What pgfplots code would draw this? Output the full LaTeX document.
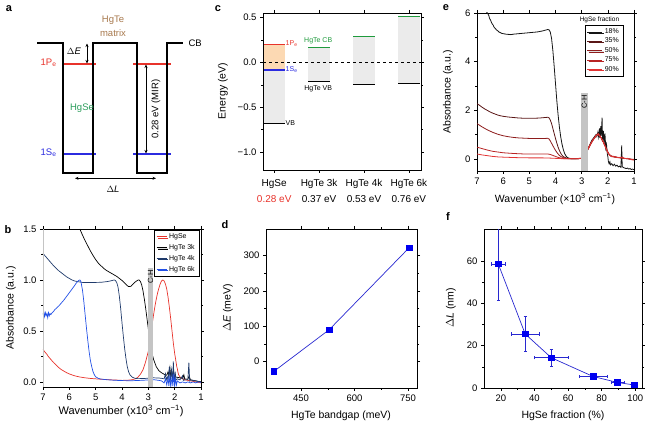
\documentclass[border=0pt]{standalone}
\usepackage{pgfplots}
\pgfplotsset{compat=1.18}
\usepackage{pgfplotstable}
\usepackage{fontspec}
\setmainfont{Liberation Sans}
\usetikzlibrary{shadows,arrows.meta}

\definecolor{cRed}{HTML}{E8332B}
\definecolor{cBlue}{HTML}{2B2BE0}
\definecolor{cGreen}{HTML}{1E9A3C}
\definecolor{cHgSe}{HTML}{2E9E5E}
\definecolor{cBrown}{HTML}{A87A4F}
\definecolor{cOrange}{HTML}{FCD9B3}
\definecolor{cGrayBar}{HTML}{EBEBEB}
\definecolor{cBand}{HTML}{C4C4C4}
\definecolor{cNavy}{HTML}{1F3A6B}
\definecolor{c6k}{HTML}{2250E6}
\definecolor{cMark}{HTML}{0000F0}
\definecolor{cLine}{HTML}{2828D0}
\definecolor{r18}{HTML}{151515}
\definecolor{r35}{HTML}{5A1616}
\definecolor{r50}{HTML}{8E1C1C}
\definecolor{r75}{HTML}{B82424}
\definecolor{r90}{HTML}{E23434}

\newcommand\labfont{\fontsize{10.5}{12}\selectfont}

\pgfplotsset{
  panel/.style={
    scale only axis,
    anchor=south west,
    axis line style={line width=0.5pt},
    tick align=outside,
    tick style={black, line width=0.5pt},
    major tick length=3pt, minor tick length=1.8pt,
    tick label style={font=\fontsize{9.5}{11}\selectfont},
    /pgf/number format/assume math mode=true,
  },
  shadowlegend/.style={
    legend cell align=left,
    legend style={draw=black, line width=0.4pt, fill=white,
      inner xsep=2pt, inner ysep=1.5pt,
      font=\fontsize{6.5}{7}\selectfont, row sep=-0.5pt,
      drop shadow={shadow xshift=1.3pt, shadow yshift=-1.3pt, fill=black, opacity=1}},
    legend image code/.code={\draw[##1] (0pt,0pt) -- (#1,0pt);},
  },
}

% ---------- absorbance spectra, QDs ----------
\pgfplotstableread{
x y
7.00 0.32
6.95 0.30
6.90 0.285
6.85 0.27
6.80 0.25
6.75 0.235
6.70 0.22
6.60 0.19
6.50 0.165
6.40 0.14
6.30 0.12
6.20 0.105
6.10 0.09
6.00 0.078
5.80 0.06
5.60 0.048
5.40 0.04
5.20 0.034
5.00 0.03
4.80 0.026
4.60 0.023
4.40 0.02
4.20 0.018
4.00 0.015
3.80 0.016
3.60 0.022
3.50 0.03
3.40 0.045
3.30 0.075
3.20 0.12
3.10 0.2
3.00 0.3
2.90 0.48
2.80 0.66
2.75 0.74
2.70 0.81
2.65 0.87
2.60 0.92
2.55 0.96
2.50 0.99
2.45 1.00
2.40 0.99
2.35 0.96
2.30 0.91
2.25 0.83
2.20 0.73
2.15 0.62
2.10 0.50
2.05 0.38
2.00 0.28
1.95 0.20
1.92 0.15
1.90 0.13
1.87 0.09
1.85 0.07
1.80 0.05
1.75 0.04
1.70 0.03
1.60 0.02
1.50 0.015
1.40 0.01
1.30 0.005
1.20 0.0
1.10 -0.005
1.00 -0.01
}\tblBHgSe

\pgfplotstableread{
x y
5.60 1.50
5.50 1.44
5.40 1.385
5.30 1.335
5.20 1.285
5.10 1.24
5.00 1.20
4.90 1.165
4.80 1.14
4.70 1.115
4.60 1.095
4.50 1.08
4.40 1.065
4.30 1.05
4.20 1.035
4.10 1.015
4.00 0.995
3.90 0.97
3.80 0.945
3.75 0.935
3.70 0.935
3.65 0.94
3.60 0.955
3.50 0.98
3.40 0.998
3.35 1.0
3.30 0.985
3.25 0.95
3.20 0.89
3.15 0.81
3.10 0.72
3.05 0.62
3.00 0.52
2.95 0.42
2.90 0.34
2.85 0.27
2.80 0.22
2.70 0.15
2.60 0.11
2.50 0.09
2.40 0.075
2.35 0.07
2.30 0.065
2.25 0.10
2.22 0.06
2.18 0.14
2.15 0.06
2.10 0.055
2.05 0.11
2.02 0.05
2.00 0.05
1.90 0.045
1.80 0.04
1.70 0.035
1.65 0.07
1.62 0.03
1.50 0.025
1.45 0.06
1.40 0.02
1.30 0.015
1.20 0.01
1.10 0.005
1.00 0.0
}\tblBthree

\pgfplotstableread{
x y
7.00 1.26
6.95 1.245
6.90 1.23
6.85 1.215
6.80 1.20
6.75 1.185
6.70 1.17
6.65 1.155
6.60 1.14
6.50 1.115
6.40 1.09
6.30 1.07
6.20 1.05
6.10 1.03
6.00 1.015
5.90 1.0
5.80 0.99
5.70 0.985
5.60 0.98
5.50 0.976
5.40 0.975
5.20 0.975
5.00 0.976
4.80 0.977
4.70 0.98
4.60 0.983
4.50 0.987
4.40 0.993
4.30 1.0
4.25 0.995
4.20 0.975
4.15 0.93
4.10 0.84
4.05 0.72
4.00 0.58
3.95 0.45
3.90 0.33
3.85 0.23
3.80 0.15
3.75 0.10
3.70 0.07
3.60 0.045
3.50 0.035
3.40 0.032
3.20 0.033
3.00 0.036
2.80 0.04
2.60 0.038
2.50 0.035
2.40 0.03
2.35 0.08
2.32 0.02
2.28 0.05
2.25 0.02
2.20 0.15
2.17 0.0
2.12 0.12
2.08 0.01
2.05 0.20
2.02 0.0
1.98 0.10
1.95 0.02
1.90 0.03
1.80 0.02
1.70 0.06
1.67 0.015
1.60 0.02
1.50 0.02
1.46 0.19
1.43 0.01
1.40 0.02
1.30 0.015
1.20 0.01
1.10 0.005
1.00 0.0
}\tblBfour

\pgfplotstableread{
x y
7.00 0.66
6.97 0.69
6.94 0.64
6.91 0.68
6.88 0.65
6.85 0.67
6.82 0.63
6.79 0.68
6.76 0.65
6.73 0.67
6.70 0.66
6.65 0.68
6.60 0.69
6.55 0.71
6.50 0.72
6.40 0.745
6.30 0.775
6.20 0.805
6.10 0.84
6.00 0.875
5.90 0.91
5.80 0.945
5.75 0.965
5.70 0.98
5.65 0.995
5.60 1.0
5.57 0.99
5.55 0.97
5.50 0.90
5.45 0.79
5.40 0.66
5.35 0.53
5.30 0.41
5.25 0.30
5.20 0.21
5.15 0.15
5.10 0.10
5.05 0.07
5.00 0.05
4.90 0.035
4.80 0.028
4.60 0.022
4.40 0.018
4.20 0.015
4.00 0.013
3.80 0.012
3.60 0.012
3.40 0.014
3.20 0.016
3.00 0.02
2.80 0.022
2.60 0.015
2.50 0.01
2.40 -0.01
2.35 0.03
2.30 -0.03
2.25 0.04
2.22 -0.04
2.18 0.06
2.15 -0.05
2.10 0.05
2.07 -0.04
2.03 0.08
2.00 -0.05
1.97 0.03
1.93 -0.03
1.90 0.01
1.80 -0.01
1.70 0.0
1.60 -0.01
1.50 0.0
1.40 -0.01
1.30 0.0
1.20 -0.01
1.10 0.0
1.00 -0.005
}\tblBsix

% ---------- absorbance spectra, HgSe/HgTe films ----------
\pgfplotstableread{
x y
7.00 6.80
6.90 6.55
6.80 6.35
6.70 6.15
6.62 6.02
6.58 5.96
6.55 5.90
6.52 5.78
6.48 5.70
6.45 5.62
6.42 5.55
6.38 5.50
6.35 5.42
6.30 5.36
6.25 5.30
6.20 5.26
6.15 5.21
6.10 5.19
6.05 5.16
6.00 5.15
5.90 5.13
5.80 5.12
5.70 5.11
5.60 5.13
5.50 5.14
5.40 5.15
5.30 5.16
5.20 5.17
5.10 5.18
5.00 5.19
4.90 5.20
4.80 5.21
4.70 5.22
4.60 5.24
4.50 5.26
4.40 5.29
4.30 5.32
4.25 5.31
4.20 5.22
4.15 4.95
4.10 4.45
4.05 3.80
4.00 3.10
3.95 2.40
3.90 1.80
3.85 1.30
3.80 0.90
3.75 0.60
3.70 0.38
3.65 0.22
3.60 0.12
3.55 0.06
3.50 0.03
3.40 0.01
3.30 0.0
3.20 0.0
3.10 0.01
3.00 0.02
2.90 0.10
2.80 0.30
2.75 0.42
2.70 0.55
2.65 0.68
2.60 0.78
2.55 0.85
2.50 0.93
2.45 1.00
2.42 0.92
2.38 1.10
2.35 0.90
2.32 1.25
2.30 0.85
2.27 1.35
2.25 0.95
2.22 1.70
2.20 0.70
2.17 1.15
2.14 0.60
2.11 1.05
2.08 0.45
2.05 0.60
2.02 0.20
2.00 0.10
1.98 -0.10
1.95 -0.20
1.92 -0.12
1.90 -0.25
1.85 -0.20
1.80 -0.28
1.75 -0.22
1.70 -0.30
1.65 -0.26
1.60 -0.33
1.55 -0.30
1.50 -0.35
1.47 0.55
1.45 -0.32
1.40 -0.36
1.35 -0.38
1.30 -0.40
1.25 -0.38
1.20 -0.42
1.15 -0.40
1.10 -0.44
1.05 -0.42
1.00 -0.45
}\tblEa

\pgfplotstableread{
x y
7.00 2.27
6.90 2.20
6.80 2.12
6.70 2.05
6.60 1.99
6.50 1.93
6.40 1.88
6.30 1.84
6.20 1.80
6.10 1.77
6.00 1.75
5.80 1.72
5.60 1.70
5.40 1.68
5.20 1.67
5.00 1.67
4.80 1.67
4.60 1.68
4.50 1.69
4.40 1.70
4.30 1.71
4.25 1.69
4.20 1.60
4.15 1.45
4.10 1.25
4.05 1.04
4.00 0.84
3.95 0.65
3.90 0.48
3.85 0.34
3.80 0.23
3.75 0.15
3.70 0.09
3.60 0.04
3.50 0.015
3.40 0.005
3.20 0.0
3.00 0.02
2.90 0.15
2.80 0.33
2.75 0.42
2.70 0.52
2.65 0.62
2.60 0.72
2.55 0.80
2.50 0.88
2.45 0.95
2.40 0.99
2.36 1.03
2.32 0.95
2.28 0.92
2.24 0.84
2.20 0.76
2.16 0.68
2.12 0.58
2.08 0.48
2.04 0.38
2.00 0.28
1.96 0.20
1.92 0.15
1.88 0.12
1.84 0.10
1.80 0.09
1.75 0.08
1.70 0.07
1.65 0.06
1.60 0.05
1.50 0.04
1.46 0.09
1.44 0.03
1.40 0.02
1.30 0.01
1.20 0.0
1.10 -0.02
1.00 -0.03
}\tblEb

\pgfplotstableread{
x y
7.00 1.45
6.90 1.38
6.80 1.31
6.70 1.25
6.60 1.19
6.50 1.14
6.40 1.09
6.30 1.05
6.20 1.01
6.10 0.98
6.00 0.95
5.80 0.91
5.60 0.88
5.40 0.86
5.20 0.85
5.00 0.84
4.80 0.835
4.60 0.835
4.40 0.84
4.30 0.845
4.25 0.82
4.20 0.74
4.15 0.64
4.10 0.54
4.05 0.44
4.00 0.35
3.95 0.27
3.90 0.20
3.85 0.14
3.80 0.10
3.75 0.07
3.70 0.05
3.60 0.02
3.50 0.005
3.30 0.0
3.00 0.03
2.90 0.17
2.80 0.36
2.75 0.44
2.70 0.55
2.65 0.63
2.60 0.74
2.55 0.81
2.50 0.90
2.45 0.96
2.41 1.01
2.37 0.98
2.33 1.00
2.29 0.90
2.25 0.86
2.21 0.74
2.17 0.70
2.13 0.57
2.09 0.50
2.05 0.37
2.01 0.30
1.97 0.21
1.93 0.17
1.89 0.13
1.85 0.11
1.80 0.10
1.75 0.08
1.70 0.08
1.62 0.06
1.55 0.05
1.48 0.07
1.42 0.03
1.35 0.02
1.25 0.01
1.15 -0.01
1.00 -0.02
}\tblEc

\pgfplotstableread{
x y
7.00 0.48
6.80 0.42
6.60 0.36
6.40 0.31
6.20 0.28
6.00 0.25
5.80 0.235
5.60 0.22
5.40 0.21
5.20 0.20
5.00 0.20
4.80 0.20
4.60 0.20
4.40 0.20
4.30 0.20
4.20 0.18
4.10 0.14
4.00 0.10
3.90 0.06
3.80 0.03
3.70 0.01
3.50 0.0
3.20 0.0
3.00 0.02
2.90 0.14
2.80 0.31
2.75 0.40
2.70 0.50
2.65 0.61
2.60 0.70
2.55 0.79
2.50 0.86
2.45 0.94
2.42 0.97
2.38 1.01
2.34 0.99
2.30 0.93
2.26 0.88
2.22 0.78
2.18 0.72
2.14 0.61
2.10 0.53
2.06 0.41
2.02 0.32
1.98 0.23
1.94 0.17
1.90 0.12
1.85 0.09
1.80 0.08
1.75 0.09
1.70 0.07
1.65 0.05
1.58 0.06
1.50 0.03
1.45 0.06
1.40 0.02
1.30 0.01
1.20 0.0
1.10 -0.03
1.00 -0.04
}\tblEd

\pgfplotstableread{
x y
7.00 0.20
6.80 0.16
6.60 0.13
6.40 0.10
6.20 0.08
6.00 0.07
5.50 0.05
5.00 0.04
4.50 0.04
4.20 0.03
4.00 0.02
3.80 0.01
3.50 0.0
3.20 0.0
3.00 0.03
2.90 0.16
2.80 0.34
2.75 0.43
2.70 0.53
2.65 0.64
2.60 0.71
2.55 0.82
2.50 0.87
2.45 0.97
2.41 0.98
2.37 1.04
2.33 0.96
2.29 0.94
2.25 0.84
2.21 0.79
2.17 0.67
2.13 0.60
2.09 0.47
2.05 0.40
2.01 0.27
1.97 0.22
1.93 0.14
1.89 0.13
1.85 0.09
1.80 0.11
1.75 0.07
1.70 0.08
1.62 0.05
1.55 0.06
1.48 0.04
1.42 0.05
1.35 0.01
1.25 0.02
1.15 -0.02
1.00 -0.05
}\tblEe

\begin{document}
\begin{tikzpicture}[x=1pt,y=1pt]
\useasboundingbox (0,0) rectangle (646,423);

% ================= panel a: band alignment sketch =================
\begin{scope}[line width=1.1pt]
  \draw[cRed] (63,359) -- (96,359);
  \draw[cRed] (133,359) -- (171,359);
  \draw[cBlue] (63,269) -- (96,269);
  \draw[cBlue] (133,269) -- (171,269);
  \draw[black, line join=miter] (37,380) -- (63,380) -- (63,250) -- (93,250) -- (93,380)
     -- (137,380) -- (137,250) -- (167,250) -- (167,380) -- (183,380);
\end{scope}
\begin{scope}[line width=0.6pt, {Stealth[length=3.5pt,width=3pt]}-{Stealth[length=3.5pt,width=3pt]}]
  \draw (87,379.5) -- (87,359.5);
  \draw (146,358.5) -- (146,269.5);
  \draw (75,244.7) -- (156,244.7);
\end{scope}
\begin{scope}[font=\fontsize{9.5}{11}\selectfont]
  \node[font=\fontsize{11}{12}\selectfont\bfseries] at (9,414) {a};
  \node[cBrown] at (113,403) {HgTe};
  \node[cBrown] at (113,390) {matrix};
  \node[anchor=west] at (185,380) {CB};
  \node at (74,372) {$\Delta$\textit{E}};
  \node[cRed, anchor=east] at (60,360) {1P\textsubscript{e}};
  \node[cBlue, anchor=east] at (60,270) {1S\textsubscript{e}};
  \node[cHgSe] at (82,315) {HgSe};
  \node[rotate=90] at (156,314) {0.28 eV (MIR)};
  \node at (113,234) {$\Delta$\textit{L}};
\end{scope}

% ================= panel b: QD spectra =================
\begin{axis}[panel, shadowlegend=10pt, at={(43pt,36pt)}, width=158pt, height=158pt,
  x dir=reverse, xmin=1, xmax=7, ymin=-0.05, ymax=1.5,
  xtick={1,2,...,7}, ytick={0,0.5,1,1.5}, minor y tick num=1,
  yticklabel style={/pgf/number format/.cd, fixed, fixed zerofill, precision=1},
  legend style={at={(0.987,0.994)}, anchor=north east, font=\fontsize{7}{8}\selectfont, row sep=0.3pt},
  every axis plot/.append style={line width=0.7pt}]
  \addplot[cRed] table {\tblBHgSe};
  \addplot[black] table {\tblBthree};
  \addplot[cNavy] table {\tblBfour};
  \addplot[c6k] table {\tblBsix};
  \addplot[fill=cBand, draw=none, forget plot] coordinates {(3.01,-0.05) (2.82,-0.05) (2.82,1.12) (3.01,1.12)} -- cycle;
  \addplot[fill=cBand, draw=none, forget plot] coordinates {(7,-0.05) (6.95,-0.05) (6.95,1.5) (7,1.5)} -- cycle;
  \node[rotate=90, font=\fontsize{7.5}{8}\selectfont] at (axis cs:2.915,1.03) {C-H};
  \legend{HgSe, HgTe 3k, HgTe 4k, HgTe 6k}
\end{axis}
\node[font=\fontsize{11}{12}\selectfont\bfseries] at (8,193) {b};
\node[rotate=90, font=\labfont] at (11,115) {Absorbance (a.u.)};
\node[font=\fontsize{11}{12}\selectfont] at (121,12) {Wavenumber (x10\textsuperscript{3} cm\textsuperscript{−1})};

% ================= panel c: energy levels =================
\begin{axis}[panel, at={(263pt,253pt)}, width=158pt, height=157pt,
  xmin=-0.25, xmax=3.27, ymin=-1.2, ymax=0.55,
  xtick={0,1,2,3},
  xticklabels={{HgSe\\\textcolor{cRed}{0.28 eV}},{HgTe 3k\\0.37 eV},{HgTe 4k\\0.53 eV},{HgTe 6k\\0.76 eV}},
  xticklabel style={align=center, font=\fontsize{10}{16}\selectfont, yshift=-3pt},
  ytick={-1,-0.5,0,0.5}, yticklabels={−1.0,−0.5,0.0,0.5}, minor y tick num=1]
  % gaps
  \addplot[fill=cGrayBar, draw=none] coordinates {(-0.23,-0.678) (0.23,-0.678) (0.23,-0.085) (-0.23,-0.085)} -- cycle;
  \addplot[fill=cOrange, draw=none] coordinates {(-0.23,-0.085) (0.23,-0.085) (0.23,0.2) (-0.23,0.2)} -- cycle;
  \addplot[fill=cGrayBar, draw=none] coordinates {(0.76,-0.214) (1.24,-0.214) (1.24,0.167) (0.76,0.167)} -- cycle;
  \addplot[fill=cGrayBar, draw=none] coordinates {(1.76,-0.245) (2.24,-0.245) (2.24,0.289) (1.76,0.289)} -- cycle;
  \addplot[fill=cGrayBar, draw=none] coordinates {(2.76,-0.24) (3.24,-0.24) (3.24,0.514) (2.76,0.514)} -- cycle;
  \addplot[black, dashed, line width=0.6pt] coordinates {(-0.25,0) (3.27,0)};
  % levels
  \addplot[cRed, line width=1.2pt] coordinates {(-0.23,0.2) (0.23,0.2)};
  \addplot[cBlue, line width=1.2pt] coordinates {(-0.23,-0.085) (0.23,-0.085)};
  \addplot[black, line width=1.2pt] coordinates {(-0.23,-0.678) (0.23,-0.678)};
  \addplot[cGreen, line width=1.2pt] coordinates {(0.76,0.167) (1.24,0.167)};
  \addplot[black, line width=1.2pt] coordinates {(0.76,-0.214) (1.24,-0.214)};
  \addplot[cGreen, line width=1.2pt] coordinates {(1.76,0.289) (2.24,0.289)};
  \addplot[black, line width=1.2pt] coordinates {(1.76,-0.245) (2.24,-0.245)};
  \addplot[cGreen, line width=1.2pt] coordinates {(2.76,0.514) (3.24,0.514)};
  \addplot[black, line width=1.2pt] coordinates {(2.76,-0.24) (3.24,-0.24)};
  \begin{scope}[font=\fontsize{7}{8}\selectfont]
    \node[cRed, anchor=west, inner sep=1pt] at (axis cs:0.23,0.205) {1P\textsubscript{e}};
    \node[cBlue, anchor=west, inner sep=1pt] at (axis cs:0.23,-0.08) {1S\textsubscript{e}};
    \node[anchor=west, inner sep=1pt] at (axis cs:0.23,-0.678) {VB};
    \node[cGreen] at (axis cs:0.98,0.245) {HgTe CB};
    \node at (axis cs:0.98,-0.3) {HgTe VB};
  \end{scope}
\end{axis}
\node[font=\fontsize{11}{12}\selectfont\bfseries] at (218,414) {c};
\node[rotate=90, font=\labfont] at (223,332) {Energy (eV)};

% ================= panel d: offset vs bandgap =================
\begin{axis}[panel, at={(266pt,35pt)}, width=151pt, height=159pt,
  xmin=352, xmax=775, ymin=-75, ymax=375,
  xtick={450,600,750}, minor x tick num=1,
  ytick={0,100,200,300}, minor y tick num=1]
  \addplot[cLine, line width=0.7pt, mark=square*, mark size=2.8pt,
    mark options={fill=cMark, draw=cMark}] coordinates {(374,-28) (529,90) (753,322)};
\end{axis}
\node[font=\fontsize{11}{12}\selectfont\bfseries] at (225,198) {d};
\node[rotate=90, font=\labfont] at (228,115) {$\Delta$\textit{E} (meV)};
\node[font=\labfont] at (341,7) {HgTe bandgap (meV)};

% ================= panel e: film spectra =================
\begin{axis}[panel, shadowlegend=15pt, at={(477pt,252pt)}, width=157pt, height=158pt,
  x dir=reverse, xmin=1, xmax=7, ymin=-0.5, ymax=6,
  xtick={1,2,...,7}, ytick={0,2,4,6}, minor y tick num=1,
  legend style={at={(0.93,0.924)}, anchor=north east, font=\fontsize{7}{7.5}\selectfont, row sep=-1pt},
  every axis plot/.append style={line width=0.8pt}]
  \addplot[r18] table {\tblEa};
  \addplot[r35] table {\tblEb};
  \addplot[r50] table {\tblEc};
  \addplot[r75] table {\tblEd};
  \addplot[r90] table {\tblEe};
  \addplot[fill=cBand, draw=none, forget plot] coordinates {(3.03,-0.5) (2.76,-0.5) (2.76,2.7) (3.03,2.7)} -- cycle;
  \node[rotate=90, font=\fontsize{7.5}{8}\selectfont] at (axis cs:2.895,2.33) {C-H};
  \node[font=\fontsize{6.5}{7}\selectfont] at (rel axis cs:0.78,0.955) {HgSe fraction};
  \legend{18\%, 35\%, 50\%, 75\%, 90\%}
\end{axis}
\node[font=\fontsize{11}{12}\selectfont\bfseries] at (446,415) {e};
\node[rotate=90, font=\labfont] at (448,331) {Absorbance (a.u.)};
\node[font=\labfont] at (555,224) {Wavenumber (×10\textsuperscript{3} cm\textsuperscript{−1})};

% ================= panel f: interdiffusion length =================
\begin{axis}[panel, at={(484pt,35pt)}, width=158pt, height=159pt,
  xmin=10, xmax=104, ymin=0, ymax=75,
  xtick={20,40,...,100}, minor x tick num=1,
  ytick={0,20,40,60}, minor y tick num=1]
  \addplot[cLine, line width=0.7pt, mark=square*, mark size=2.8pt,
    mark options={fill=cMark, draw=cMark},
    error bars/.cd, x dir=both, x explicit, y dir=both, y explicit,
    error bar style={cLine, line width=0.5pt},
    error mark options={cLine, rotate=90, mark size=1.6pt}]
    coordinates {
      (18.5,58.5) +- (4.2,17.0)
      (34.5,25.5) +- (8.5,8.3)
      (50,14.3) +- (10,3.8)
      (75,5.4) +- (8.3,0.8)
      (89.5,2.6) +- (4,0.6)
      (99.5,1.4) +- (0.5,0.3)
    };
\end{axis}
\node[font=\fontsize{11}{12}\selectfont\bfseries] at (448,206) {f};
\node[rotate=90, font=\labfont] at (451,115) {$\Delta$\textit{L} (nm)};
\node[font=\labfont] at (563,7) {HgSe fraction (\%)};
\end{tikzpicture}
\end{document}
